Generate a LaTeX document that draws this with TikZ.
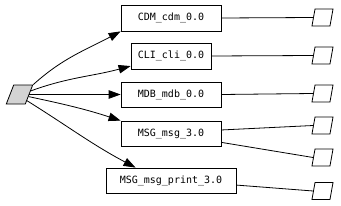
\documentclass[tikz,border=0pt]{standalone}
\usepackage{fontspec}
\setmonofont{DejaVu Sans Mono}
\usetikzlibrary{arrows.meta}
\definecolor{srcgray}{HTML}{d3d3d3}

\begin{document}
\begin{tikzpicture}[
                x=1pt, y=-1pt,
                >={Triangle[length=12pt, width=8.5pt]},
                font=\ttfamily\fontsize{10}{12}\selectfont,
                para/.style={rectangle, draw, line width=0.8pt, inner sep=0pt,
                minimum width=18pt, minimum height=17pt, xslant=0.18, transform shape},
                srcnode/.style={para, fill=srcgray, minimum width=19pt, minimum height=19pt, xslant=0.21},
                pkg/.style={rectangle, draw, line width=0.8pt, inner sep=0pt, minimum height=25pt},
                deparrow/.style={->, line width=0.8pt},
                link/.style={line width=0.8pt},
                ]

                \useasboundingbox (0,0) rectangle (341,206);

                % ── Source node ──
                \node[srcnode] (src) at (19.5,94.5) {};

                % ── Packages ──
                \node[pkg, minimum width=100pt, minimum height=26pt] (cdm) at (171,18) {CDM\_cdm\_0.0};
                \node[pkg, minimum width=80pt, minimum height=26pt] (cli) at (171,56) {CLI\_cli\_0.0};
                \node[pkg, minimum width=100pt] (mdb) at (171,94.5) {MDB\_mdb\_0.0};
                \node[pkg, minimum width=100pt] (msg) at (171,133.5) {MSG\_msg\_3.0};
                \node[pkg, minimum width=130pt] (msgp) at (171,180.5) {MSG\_msg\_print\_3.0};

                % ── Right-hand ends ──
                \node[para] (r1) at (322.5,17.5) {};
                \node[para] (r2) at (322.5,55.5) {};
                \node[para] (r3) at (322.5,93.5) {};
                \node[para] (r4) at (322.5,125.5) {};
                \node[para] (r5) at (322.5,157.5) {};
                \node[para] (r6) at (322.5,191) {};

                % ── Dependencies ──
                \draw[deparrow] (src.north east) to[out=42, in=208] (cdm.south west);
                \draw[deparrow] (src.20) to[out=20, in=195] (cli.194);
                \draw[deparrow] (src.east) -- (mdb.west);
                \draw[deparrow] (src.-12) to[out=-12, in=162] (msg.north west);
                \draw[deparrow] (src.-32) to[out=-32, in=152] (msgp.160);

                % ── Links to the right ──
                \draw[link] (cdm.east) -- (r1.west);
                \draw[link] (cli.east) -- (r2.west);
                \draw[link] (mdb.east) -- (r3.west);
                \draw[link] (msg.4) -- (r4.west);
                \draw[link] (msg.-10) -- (r5.west);
                \draw[link] (msgp.-4) -- (r6.west);

\end{tikzpicture}
\end{document}
